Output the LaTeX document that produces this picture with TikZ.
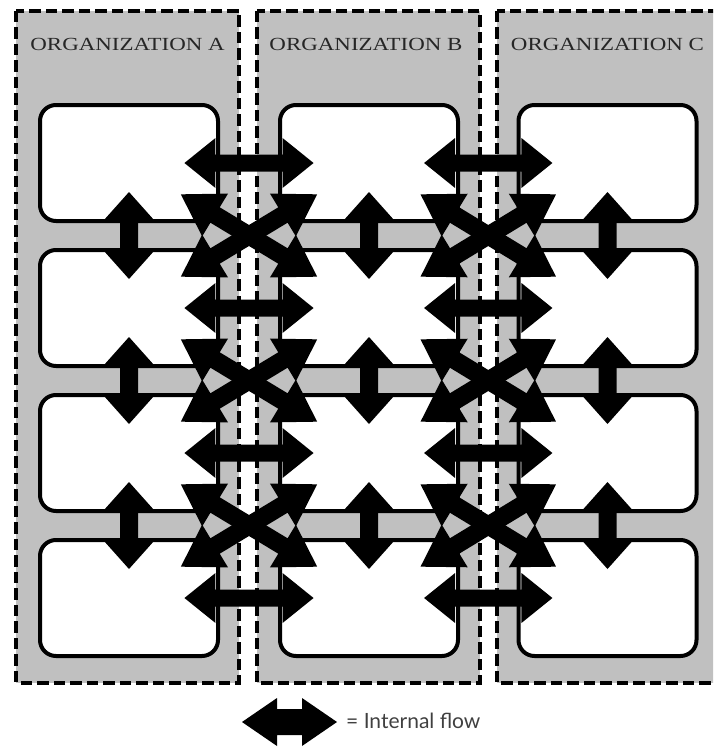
\documentclass[tikz,border=0pt]{standalone}
\usepackage{fontspec}
\usetikzlibrary{calc}
\newfontfamily\keyfont{Lato}
\newfontfamily\orgfont{Liberation Serif}
\definecolor{panelgray}{HTML}{C0C0C0}
\definecolor{labelgray}{HTML}{262626}
\definecolor{keygray}{HTML}{404040}

\tikzset{
  panel/.style={fill=panelgray, draw=black, line width=4pt, dash pattern=on 11.5pt off 5pt},
  unitbox/.style={draw=black, fill=white, line width=4pt, rounded corners=16pt,
    minimum width=178pt, minimum height=116pt, inner sep=0pt},
  orglabel/.style={anchor=base, text=labelgray, inner sep=0pt,
    font=\orgfont\fontsize{18.5}{20}\selectfont},
  keylabel/.style={anchor=base west, text=keygray, inner sep=0pt,
    font=\keyfont\fontsize{21}{24}\selectfont},
  flow/.style={fill=black, draw=none},
}

% double-headed block arrow between two named points:
% #1,#2 tips, #3 head length, #4 head half-width, #5 shaft half-width
\newcommand\blockarrow[5]{%
  \fill[flow] (#1)
    -- ($(#1)!#3!(#2)!#4!90:(#2)$)
    -- ($(#1)!#3!(#2)!#5!90:(#2)$)
    -- ($(#2)!#3!(#1)!#5!-90:(#1)$)
    -- ($(#2)!#3!(#1)!#4!-90:(#1)$)
    -- (#2)
    -- ($(#2)!#3!(#1)!#4!90:(#1)$)
    -- ($(#2)!#3!(#1)!#5!90:(#1)$)
    -- ($(#1)!#3!(#2)!#5!-90:(#2)$)
    -- ($(#1)!#3!(#2)!#4!-90:(#2)$)
    -- cycle;}

\begin{document}
\begin{tikzpicture}[x=1pt, y=-1pt]
\useasboundingbox (0,0) rectangle (713,747);
\clip (0,0) rectangle (713,747);

% organisation panels
\foreach \px in {16, 256.5, 496.5}
  \draw[panel] (\px,10.8) rectangle ++(223.3,671.7);

\node[orglabel] (orgA) at (127.6,50) {\scalebox{1.24}[1]{ORGANIZATION A}};
\node[orglabel] (orgB) at (366,50) {\scalebox{1.24}[1]{ORGANIZATION B}};
\node[orglabel] (orgC) at (607.5,50) {\scalebox{1.24}[1]{ORGANIZATION C}};

% units: four per organisation
\foreach \col/\cx in {a/129, b/369, c/607.5}
  \foreach \row/\cy in {1/163, 2/308, 3/453, 4/598}
    \node[unitbox] (\col\row) at (\cx,\cy) {};

% internal flows (vertical)
\foreach \col in {a,b,c}
  \foreach \r/\s in {1/2, 2/3, 3/4} {
    \coordinate (\col\r-dn) at ($(\col\r.center)!0.2!(\col\s.center)$);
    \coordinate (\col\s-up) at ($(\col\r.center)!0.8!(\col\s.center)$);
    \blockarrow{\col\r-dn}{\col\s-up}{28pt}{25pt}{9pt}
  }

% flows between organisations, same level (horizontal)
\foreach \p/\q in {a/b, b/c}
  \foreach \r in {1,2,3,4} {
    \coordinate (\p\r-rt) at ($(\p\r.center)!0.231!(\q\r.center)$);
    \coordinate (\q\r-lt) at ($(\p\r.center)!0.769!(\q\r.center)$);
    \blockarrow{\p\r-rt}{\q\r-lt}{31pt}{25pt}{8.5pt}
  }

% flows between organisations, across levels (diagonal)
\foreach \p/\q in {a/b, b/c}
  \foreach \r/\s in {1/2, 2/3, 3/4} {
    \coordinate (\p\r-\q\s-x) at ($(\p\r.center)!0.216!(\q\s.center)$);
    \coordinate (\q\s-\p\r-x) at ($(\p\r.center)!0.784!(\q\s.center)$);
    \coordinate (\p\s-\q\r-x) at ($(\p\s.center)!0.216!(\q\r.center)$);
    \coordinate (\q\r-\p\s-x) at ($(\p\s.center)!0.784!(\q\r.center)$);
    \blockarrow{\p\r-\q\s-x}{\q\s-\p\r-x}{40pt}{25pt}{9pt}
    \blockarrow{\p\s-\q\r-x}{\q\r-\p\s-x}{40pt}{25pt}{9pt}
  }

% key
\coordinate (key-l) at (242,722);
\coordinate (key-r) at (337,722);
\blockarrow{key-l}{key-r}{35pt}{24pt}{13pt}
\node[keylabel] (keytext) at (346,728.5) {= Internal flow};
\end{tikzpicture}
\end{document}
